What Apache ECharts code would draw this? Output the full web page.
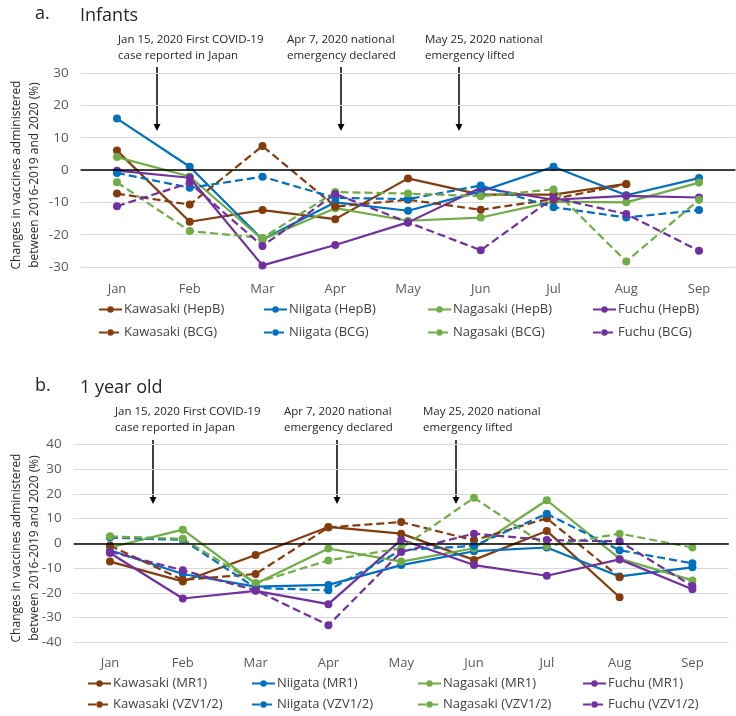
<!DOCTYPE html>
<html>
<head>
<meta charset="utf-8">
<script src="https://cdn.jsdelivr.net/npm/echarts@6/dist/echarts.min.js"></script>
<style>html,body{margin:0;padding:0;background:#fff}#c{width:736px;height:716px}</style>
</head>
<body>
<div id="c"></div>
<script>
// ---------- data ----------
const months = ['Jan','Feb','Mar','Apr','May','Jun','Jul','Aug','Sep'];
const yTicksTop = [-30,-20,-10,0,10,20,30];
const yTicksBottom = [-40,-30,-20,-10,0,10,20,30,40];

// a. Infants
const kawasakiHepB = [6.0, -16.0, -12.4, -15.2, -2.6, -7.6, -7.6, -4.3, null];
const niigataHepB  = [15.9, 1.0, -21.5, -10.0, -12.6, -6.6, 1.0, -7.8, -2.5];
const nagasakiHepB = [4.0, -2.0, -21.5, -11.8, -15.7, -14.7, -9.8, -10.0, -3.9];
const fuchuHepB    = [-0.2, -2.4, -29.5, -23.2, -16.2, -5.5, -9.2, -8.0, -8.5];
const kawasakiBCG  = [-7.3, -10.7, 7.4, -11.3, -9.2, -12.3, -9.0, -4.4, null];
const niigataBCG   = [-0.9, -5.5, -2.1, -8.6, -9.0, -4.8, -11.5, -14.7, -12.4];
const nagasakiBCG  = [-3.8, -18.9, -21.0, -6.8, -7.3, -8.1, -6.0, -28.3, -9.2];
const fuchuBCG     = [-11.2, -4.0, -23.5, -7.4, -16.2, -24.8, -8.6, -13.6, -25.0];

// b. 1 year old
const kawasakiMR1 = [-7.4, -15.4, -4.7, 6.6, 3.9, -6.7, 5.0, -21.8, null];
const niigataMR1  = [-2.8, -12.4, -17.5, -16.8, -8.8, -3.2, -1.7, -13.4, -9.7];
const nagasakiMR1 = [-1.7, 5.5, -16.3, -2.1, -7.4, -2.0, 17.4, -6.2, -15.0];
const fuchuMR1    = [-3.9, -22.3, -19.2, -24.6, 1.4, -8.8, -13.1, -6.5, -18.6];
const kawasakiVZV = [-0.9, -14.8, -12.4, 6.4, 8.6, 1.2, 10.1, -13.7, null];
const niigataVZV  = [2.3, 1.4, -18.0, -19.0, -2.8, -1.0, 11.9, -2.8, -8.1];
const nagasakiVZV = [2.8, 1.8, -16.0, -6.9, -2.0, 18.4, -1.2, 3.9, -1.7];
const fuchuVZV    = [-3.4, -10.9, -19.0, -33.1, -3.5, 3.9, 1.3, 0.8, -17.3];

const annotations = [
  'Jan 15, 2020 First COVID-19\ncase reported in Japan',
  'Apr 7, 2020 national\nemergency declared',
  'May 25, 2020 national\nemergency lifted'
];
const yName1 = 'Changes in vaccines administered';
const yName2 = 'between 2016-2019 and 2020 (%)';

// ---------- styling ----------
const C = {kawasaki:'#843C0C', niigata:'#0070C0', nagasaki:'#70AD47', fuchu:'#7030A0'};
const FONT = 'Open Sans';
const TXT = '#404040';
const AX = '#595959';

function mk(name, data, color, dashed, gi, zero){
  const s = {
    name, type:'line', data, xAxisIndex:gi, yAxisIndex:gi,
    symbol:'circle', symbolSize:8, connectNulls:false,
    lineStyle:{color, width:2.2, type: dashed ? [8,4] : 'solid'},
    itemStyle:{color},
    emphasis:{disabled:true}, animation:false
  };
  if (zero) s.markLine = {silent:true, symbol:'none', animation:false,
    label:{show:false}, lineStyle:{color:'#000', width:1.5, type:'solid'},
    data:[{yAxis:0}]};
  return s;
}

const topNames1 = ['Kawasaki (HepB)','Niigata (HepB)','Nagasaki (HepB)','Fuchu (HepB)'];
const topNames2 = ['Kawasaki (BCG)','Niigata (BCG)','Nagasaki (BCG)','Fuchu (BCG)'];
const botNames1 = ['Kawasaki (MR1)','Niigata (MR1)','Nagasaki (MR1)','Fuchu (MR1)'];
const botNames2 = ['Kawasaki (VZV1/2)','Niigata (VZV1/2)','Nagasaki (VZV1/2)','Fuchu (VZV1/2)'];

const series = [
  mk(topNames1[0], kawasakiHepB, C.kawasaki, false, 0, true),
  mk(topNames1[1], niigataHepB, C.niigata, false, 0),
  mk(topNames1[2], nagasakiHepB, C.nagasaki, false, 0),
  mk(topNames1[3], fuchuHepB, C.fuchu, false, 0),
  mk(topNames2[0], kawasakiBCG, C.kawasaki, true, 0),
  mk(topNames2[1], niigataBCG, C.niigata, true, 0),
  mk(topNames2[2], nagasakiBCG, C.nagasaki, true, 0),
  mk(topNames2[3], fuchuBCG, C.fuchu, true, 0),
  mk(botNames1[0], kawasakiMR1, C.kawasaki, false, 1, true),
  mk(botNames1[1], niigataMR1, C.niigata, false, 1),
  mk(botNames1[2], nagasakiMR1, C.nagasaki, false, 1),
  mk(botNames1[3], fuchuMR1, C.fuchu, false, 1),
  mk(botNames2[0], kawasakiVZV, C.kawasaki, true, 1),
  mk(botNames2[1], niigataVZV, C.niigata, true, 1),
  mk(botNames2[2], nagasakiVZV, C.nagasaki, true, 1),
  mk(botNames2[3], fuchuVZV, C.fuchu, true, 1)
];

function legendRow(names, lefts, top){
  return names.map((n, i) => ({data:[n], left:lefts[i], top, orient:'horizontal',
    itemWidth:23, itemHeight:8, itemGap:0, padding:0, selectedMode:false,
    textStyle:{fontFamily:FONT, fontSize:13, color:TXT, padding:[0,0,0,-3]}}));
}
const topCols = [98, 263, 427, 592];
const botCols = [87, 251, 417, 582];

function xAx(gi, margin){
  return {type:'category', gridIndex:gi, data:months, boundaryGap:true,
    axisLine:{show:false}, axisTick:{show:false}, splitLine:{show:false},
    axisLabel:{fontFamily:FONT, fontSize:13, color:AX, margin}};
}
function yAx(gi, ticks){
  return {type:'value', gridIndex:gi, min:ticks[0], max:ticks[ticks.length-1], interval:10,
    axisLine:{show:false}, axisTick:{show:false},
    splitLine:{lineStyle:{color:'#D9D9D9', width:1}},
    axisLabel:{fontFamily:FONT, fontSize:13.5, color:AX, margin:12}};
}

function arrow(x, y1, y2){
  return {type:'group', children:[
    {type:'line', shape:{x1:x, y1:y1, x2:x, y2:y2-5}, style:{stroke:'#000', lineWidth:1.5}},
    {type:'polygon', shape:{points:[[x-3.5,y2-7],[x+3.5,y2-7],[x,y2]]}, style:{fill:'#000'}}
  ]};
}
function note(text, x, y){
  return {type:'text', x, y, style:{text, fontFamily:FONT, fontSize:11.5, fill:'#262626',
    lineHeight:16.5, textAlign:'left', textVerticalAlign:'top', align:'left', verticalAlign:'top'}};
}
function vtext(text, x, y){
  return {type:'text', x, y, rotation:Math.PI/2, style:{text, fontFamily:FONT, fontSize:12, fill:'#262626',
    textAlign:'center', textVerticalAlign:'middle', align:'center', verticalAlign:'middle'}};
}

const graphic = [
  note(annotations[0], 118, 31), note(annotations[1], 287, 31), note(annotations[2], 425, 31),
  arrow(157, 67, 131), arrow(341, 67, 131), arrow(459, 67, 131),
  note(annotations[0], 115, 403), note(annotations[1], 284, 403), note(annotations[2], 423, 403),
  arrow(153, 440, 504), arrow(337, 440, 504), arrow(456, 440, 504),
  vtext(yName1, 17, 175), vtext(yName2, 35, 175),
  vtext(yName1, 17, 548), vtext(yName2, 35, 548)
];

const option = {
  backgroundColor:'#fff',
  animation:false,
  title:[
    {text:'a.', left:30, top:0, textStyle:{fontFamily:FONT, fontSize:18, fontWeight:'normal', color:'#262626'}},
    {text:'Infants', left:75, top:2, textStyle:{fontFamily:FONT, fontSize:18, fontWeight:'normal', color:'#262626'}},
    {text:'b.', left:30, top:372, textStyle:{fontFamily:FONT, fontSize:18, fontWeight:'normal', color:'#262626'}},
    {text:'1 year old', left:75, top:374, textStyle:{fontFamily:FONT, fontSize:18, fontWeight:'normal', color:'#262626'}}
  ],
  grid:[
    {left:80.6, width:654.8, top:73, height:194},
    {left:73.6, width:655.2, top:444.3, height:198}
  ],
  xAxis:[xAx(0, 16), xAx(1, 14)],
  yAxis:[yAx(0, yTicksTop), yAx(1, yTicksBottom)],
  legend:[].concat(
    legendRow(topNames1, topCols, 303),
    legendRow(topNames2, topCols, 326),
    legendRow(botNames1, botCols, 677),
    legendRow(botNames2, botCols, 698)
  ),
  graphic,
  series
};

const chart = echarts.init(document.getElementById('c'), null, {renderer:'canvas'});
chart.setOption(option);
</script>
</body>
</html>
